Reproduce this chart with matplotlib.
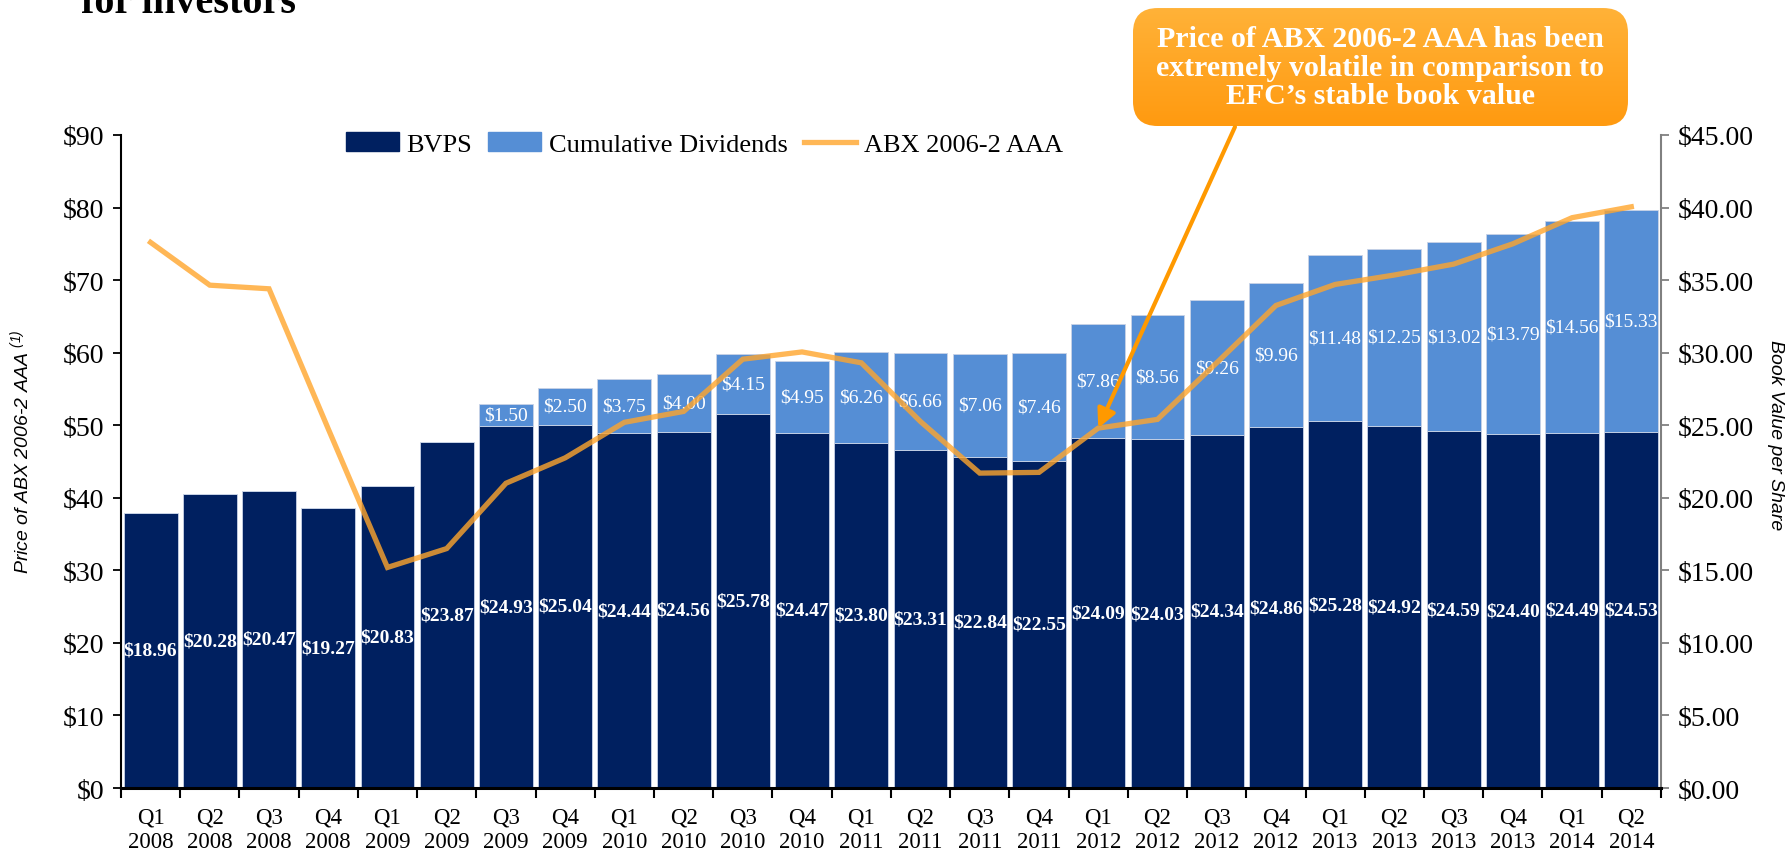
import numpy as np
import matplotlib
matplotlib.use("Agg")
import matplotlib.pyplot as plt
from matplotlib.patches import FancyBboxPatch, Patch
from matplotlib.lines import Line2D

plt.rcParams['font.family'] = 'Liberation Serif'
plt.rcParams['mathtext.fontset'] = 'custom'
plt.rcParams['mathtext.rm'] = 'Liberation Sans:italic'
plt.rcParams['mathtext.it'] = 'Liberation Sans:italic'

# Données
quarters = ["Q1\n2008", "Q2\n2008", "Q3\n2008", "Q4\n2008",
            "Q1\n2009", "Q2\n2009", "Q3\n2009", "Q4\n2009",
            "Q1\n2010", "Q2\n2010", "Q3\n2010", "Q4\n2010",
            "Q1\n2011", "Q2\n2011", "Q3\n2011", "Q4\n2011",
            "Q1\n2012", "Q2\n2012", "Q3\n2012", "Q4\n2012",
            "Q1\n2013", "Q2\n2013", "Q3\n2013", "Q4\n2013",
            "Q1\n2014", "Q2\n2014"]
bvps = [18.96, 20.28, 20.47, 19.27, 20.83, 23.87, 24.93, 25.04, 24.44, 24.56,
        25.78, 24.47, 23.80, 23.31, 22.84, 22.55, 24.09, 24.03, 24.34, 24.86,
        25.28, 24.92, 24.59, 24.40, 24.49, 24.53]
cum_div = [0, 0, 0, 0, 0, 0, 1.50, 2.50, 3.75, 4.00,
           4.15, 4.95, 6.26, 6.66, 7.06, 7.46, 7.86, 8.56, 9.26, 9.96,
           11.48, 12.25, 13.02, 13.79, 14.56, 15.33]
abx = [75.2, 69.3, 68.8, 49.5, 30.4, 33.0, 42.0, 45.5, 50.4, 51.9,
       59.1, 60.1, 58.6, 50.5, 43.4, 43.5, 49.6, 50.8, 58.6, 66.5,
       69.4, 70.7, 72.2, 75.0, 78.6, 80.1]

navy = "#002060"
light = "#558ED5"
orange = "#FFA52C"

x = np.arange(len(quarters))

fig = plt.figure(figsize=(17.89, 8.53), dpi=100)
ax = fig.add_axes([0.0676, 0.075, 0.8608, 0.7656])
ax2 = ax.twinx()

# barres sur l'axe de droite (valeur comptable)
ax2.bar(x, bvps, width=0.91, color=navy, edgecolor="#c9d3e6", linewidth=0.6)
ax2.bar(x, cum_div, bottom=bvps, width=0.91, color=light, edgecolor="#c9d3e6", linewidth=0.6)
for xi, b, d in zip(x, bvps, cum_div):
    ax2.text(xi, b / 2, f"${b:.2f}", ha='center', va='center', color='white',
             fontsize=14, fontweight='bold')
    if d > 0:
        ax2.text(xi, b + d / 2, f"${d:.2f}", ha='center', va='center', color='white',
                 fontsize=14)

# ligne ABX sur l'axe de gauche, au-dessus des barres
ax.set_zorder(ax2.get_zorder() + 1)
ax.patch.set_visible(False)
ax.plot(x, abx, color=orange, lw=3.8, alpha=0.8, solid_joinstyle='miter')

ax.set_xlim(-0.5, len(x) - 0.5)
ax.set_ylim(0, 90)
ax2.set_ylim(0, 45)
ax.set_yticks(np.arange(0, 91, 10))
ax.set_yticklabels([f"${v}" for v in range(0, 91, 10)], fontsize=20)
ax2.set_yticks(np.arange(0, 46, 5))
ax2.set_yticklabels([f"${v:.2f}" for v in range(0, 46, 5)], fontsize=20)

ax.set_xticks(x)
ax.set_xticklabels(quarters, fontsize=16.5, linespacing=1.25)
ax.tick_params(axis='x', which='major', length=0, pad=13)
ax.set_xticks(np.arange(-0.5, len(x), 1), minor=True)
ax.tick_params(axis='x', which='minor', length=7, width=1.5, direction='out', color='black')
ax.tick_params(axis='y', length=6, width=1.3, color='black', pad=6)
ax2.tick_params(axis='y', length=6, width=1.3, color='#808080', pad=6)

for a in (ax, ax2):
    a.spines['top'].set_visible(False)
ax.spines['right'].set_visible(False)
ax.spines['left'].set_linewidth(1.5)
ax.spines['bottom'].set_linewidth(2.2)
ax2.spines['left'].set_visible(False)
ax2.spines['bottom'].set_visible(False)
ax2.spines['right'].set_color('#808080')
ax2.spines['right'].set_linewidth(1.5)

fig.text(0.0115, 0.47, "Price of ABX 2006-2 AAA $^{(1)}$", fontsize=14, fontstyle='italic',
         family='Liberation Sans', rotation=90, ha='center', va='center')
fig.text(0.9925, 0.49, "Book Value per Share", fontsize=14, fontstyle='italic',
         family='Liberation Sans', rotation=-90, ha='center', va='center')

handles = [Patch(color=navy), Patch(color=light), Line2D([0], [0], color=orange, lw=3.8, alpha=0.8)]
ax.legend(handles, ["BVPS", "Cumulative Dividends", "ABX 2006-2 AAA"], ncol=3,
          loc='center', bbox_to_anchor=(0.379, 0.986), frameon=False, fontsize=19,
          handlelength=2.0, handleheight=0.7, columnspacing=0.6, handletextpad=0.3)

# titre coupé en haut
fig.text(0.045, 0.985, "for investors", fontsize=29, fontweight='bold', va='baseline')

# encadré orange
bx = fig.add_axes([0.6333, 0.8511, 0.2767, 0.1383])
bx.set_xlim(0, 1)
bx.set_ylim(0, 1)
bx.axis('off')
grad = np.linspace(0, 1, 100).reshape(-1, 1)
cmap = matplotlib.colors.LinearSegmentedColormap.from_list("o", ["#FF9A10", "#FFB238"])
im = bx.imshow(grad, extent=[0, 1, 0, 1], origin='lower', aspect='auto', cmap=cmap)
box = FancyBboxPatch((0, 0), 1, 1, boxstyle="round,pad=0,rounding_size=0.05",
                     mutation_aspect=495 / 118, facecolor='none', edgecolor='none',
                     transform=bx.transData)
bx.add_patch(box)
im.set_clip_path(box)
bx.text(0.5, 0.5, "Price of ABX 2006-2 AAA has been\nextremely volatile in comparison to\nEFC\u2019s stable book value",
        ha='center', va='center', color='white', fontsize=21.5, fontweight='bold', linespacing=1.05)

ax.annotate("", xy=(x[16], abx[16]), xycoords='data', xytext=(0.6903, 0.85),
            textcoords='figure fraction', annotation_clip=False,
            arrowprops=dict(arrowstyle='-|>', color='#FF9900', lw=3, mutation_scale=28,
                            shrinkA=0, shrinkB=0))

plt.savefig("out.png", dpi=100)
